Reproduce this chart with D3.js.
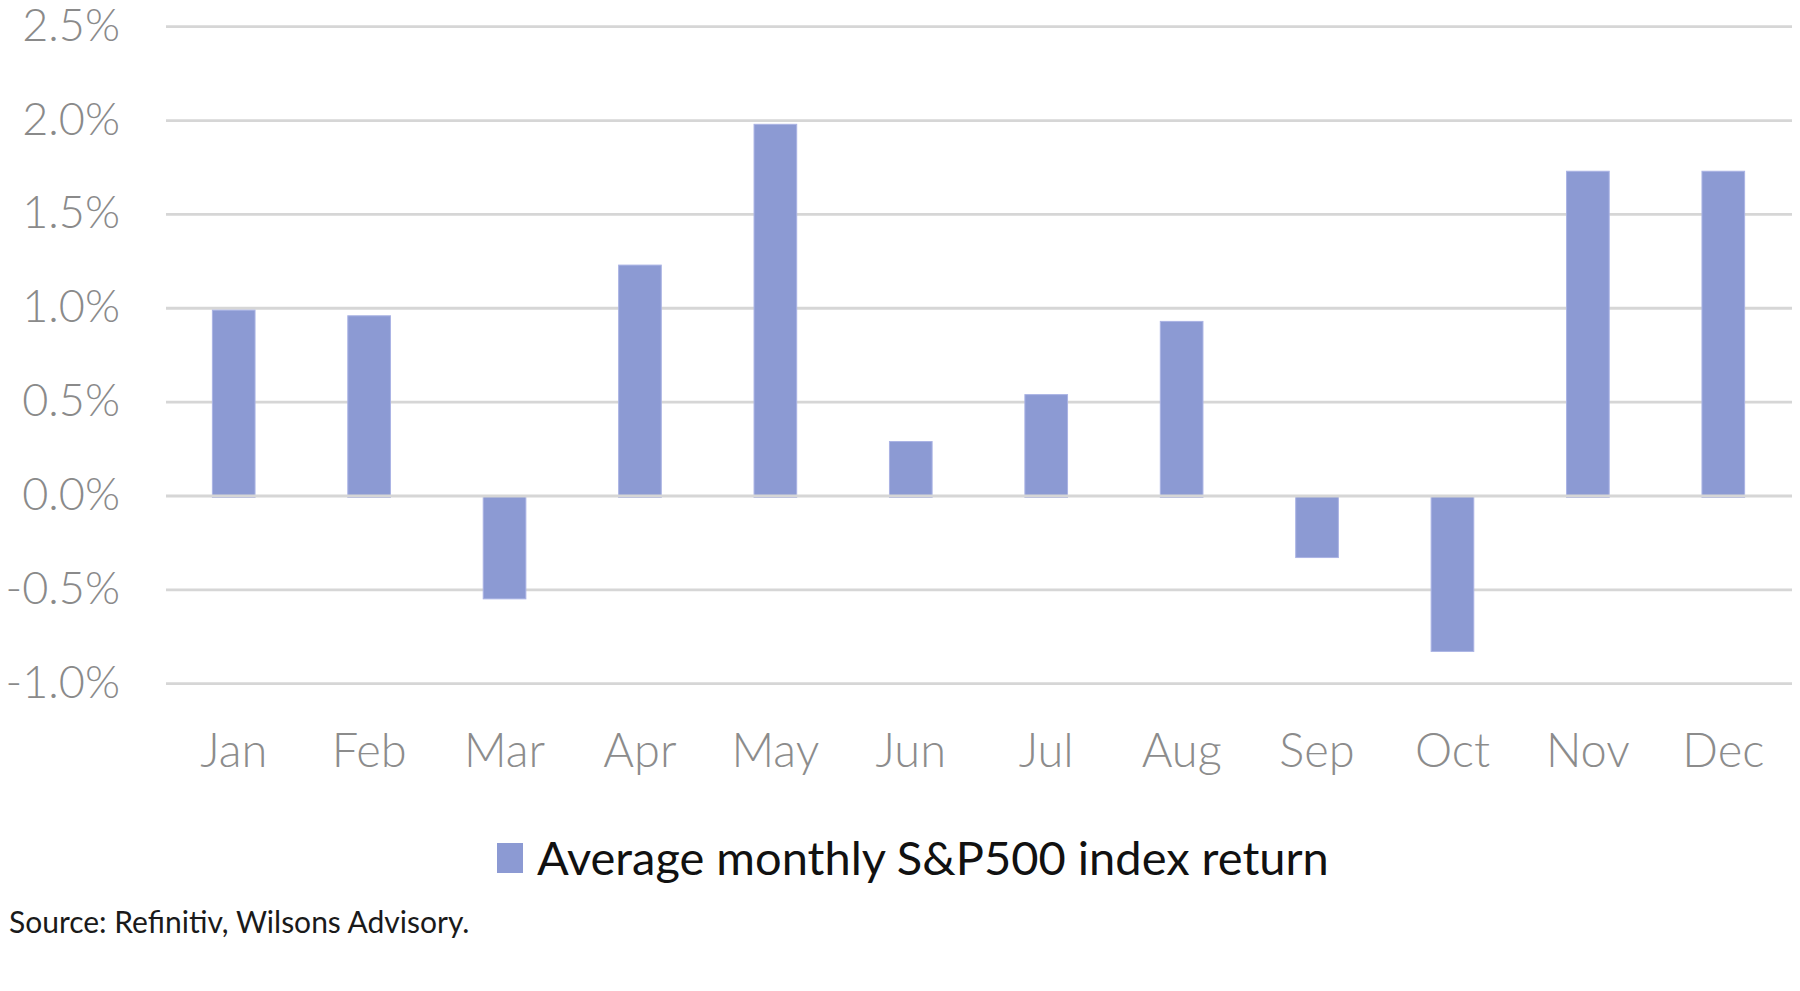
<!DOCTYPE html>
<html>
<head>
<meta charset="utf-8">
<script src="https://cdn.jsdelivr.net/npm/d3@7"></script>
<style>
  html, body { margin: 0; padding: 0; background: #fff; }
  svg { display: block; }
</style>
</head>
<body>
<svg id="chart" width="1800" height="991"></svg>
<script>
const months = ["Jan","Feb","Mar","Apr","May","Jun","Jul","Aug","Sep","Oct","Nov","Dec"];
const returns = [0.99, 0.96, -0.54, 1.23, 1.98, 0.29, 0.54, 0.93, -0.32, -0.82, 1.73, 1.73];
const yTicks = [-1.0, -0.5, 0.0, 0.5, 1.0, 1.5, 2.0, 2.5];
const seriesName = "Average monthly S&P500 index return";
const sourceText = "Source: Refinitiv, Wilsons Advisory.";

const svg = d3.select("#chart");
const FONT = "Lato, 'Open Sans', sans-serif";

const x = d3.scaleBand().domain(months).range([166, 1791]).paddingInner(0.685).paddingOuter(0.3425);
const y = d3.scaleLinear().domain([-1.0, 2.5]).range([683.7, 26.7]);

// gridlines
const grid = svg.append("g");
grid.selectAll("line").data(yTicks.filter(d => d !== 0)).join("line")
  .attr("x1", 166).attr("x2", 1792)
  .attr("y1", d => y(d)).attr("y2", d => y(d))
  .attr("stroke", "#d6d6d6").attr("stroke-width", 2.8);

// bars
svg.append("g").selectAll("rect").data(returns).join("rect")
  .attr("x", (d, i) => x(months[i]))
  .attr("width", x.bandwidth())
  .attr("y", d => d >= 0 ? y(d) : y(0))
  .attr("height", d => Math.abs(y(d) - y(0)) + 1.5)
  .attr("fill", "#8c9ad3")
  .attr("stroke", "#aab3e4").attr("stroke-width", 1);

// zero line on top
svg.append("line")
  .attr("x1", 166).attr("x2", 1792)
  .attr("y1", y(0)).attr("y2", y(0))
  .attr("stroke", "#d6d6d6").attr("stroke-width", 2.8);

// y axis labels
const pct = d => d3.format(".1f")(d).replace("\u2212", "-") + "%";
const yAxis = d3.axisLeft(y).tickValues(yTicks).tickFormat(pct).tickSize(0).tickPadding(0);
const ya = svg.append("g").attr("transform", "translate(120,0)").call(yAxis);
ya.select(".domain").remove();
ya.selectAll("text")
  .attr("font-family", FONT).attr("font-weight", 300)
  .attr("font-size", 45).attr("fill", "#8a8a8a")
  .attr("dy", "0.3em");

// x axis labels
const xAxis = d3.axisBottom(x).tickSize(0).tickPadding(0);
const xa = svg.append("g").attr("transform", "translate(0,767)").call(xAxis);
xa.select(".domain").remove();
xa.selectAll("text")
  .attr("font-family", FONT).attr("font-weight", 300)
  .attr("font-size", 47).attr("fill", "#8c8c8c")
  .attr("y", 0).attr("dy", 0);

// legend
svg.append("rect").attr("x", 497).attr("y", 843).attr("width", 26).attr("height", 30).attr("fill", "#8c9ad3");
svg.append("text").attr("x", 537).attr("y", 875)
  .attr("font-family", FONT).attr("font-size", 47).attr("fill", "#111")
  .text(seriesName);

// source
svg.append("text").attr("x", 9).attr("y", 933)
  .attr("font-family", FONT).attr("font-size", 30).attr("fill", "#1a1a1a")
  .text(sourceText);
</script>
</body>
</html>
